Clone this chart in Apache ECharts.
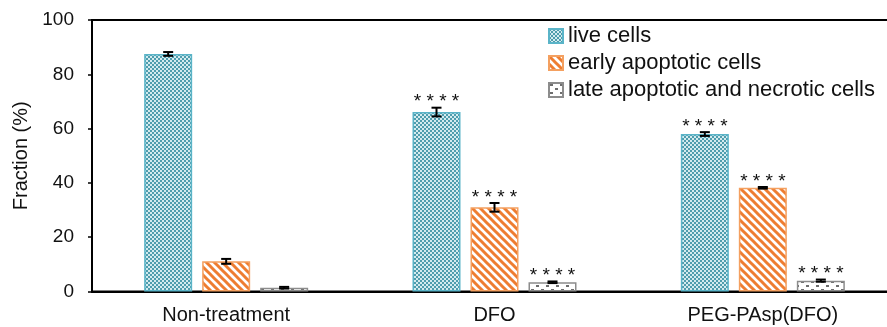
<!DOCTYPE html>
<html><head><meta charset="utf-8">
<script src="https://cdn.jsdelivr.net/npm/echarts@6/dist/echarts.min.js"></script>
<style>html,body{margin:0;padding:0;background:#fff;overflow:hidden;width:887px;height:327px}#c{width:897px;height:327px}</style>
</head><body><div id="c"></div>
<script>
var categories = ['Non-treatment', 'DFO', 'PEG-PAsp(DFO)'];
var seriesNames = ['live cells', 'early apoptotic cells', 'late apoptotic and necrotic cells'];
var liveVals = [87.5, 66.1, 58.0];
var liveErr = [0.7, 1.6, 0.7];
var earlyVals = [11.1, 31.0, 38.2];
var earlyErr = [0.9, 1.6, 0.3];
var lateVals = [1.4, 3.4, 4.0];
var lateErr = [0.3, 0.3, 0.4];
var liveStars = ['', '****', '****'];
var earlyStars = ['', '****', '****'];
var lateStars = ['', '****', '****'];
var yTicks = [0, 20, 40, 60, 80, 100];

function makeCanvas(w, h, draw) {
  var c = document.createElement('canvas'); c.width = w; c.height = h;
  var ctx = c.getContext('2d'); draw(ctx); return c;
}
var checker = makeCanvas(4, 4, function (ctx) {
  ctx.fillStyle = '#d4ebef'; ctx.fillRect(0, 0, 4, 4);
  ctx.fillStyle = '#4f9dad'; ctx.fillRect(0, 0, 2, 2); ctx.fillRect(2, 2, 2, 2);
});
var stripes = makeCanvas(8, 8, function (ctx) {
  ctx.fillStyle = '#ffffff'; ctx.fillRect(0, 0, 8, 8);
  ctx.strokeStyle = '#ee7d31'; ctx.lineWidth = 3;
  for (var k = -2; k <= 2; k++) {
    ctx.beginPath(); ctx.moveTo(k * 8 - 2, -2); ctx.lineTo(k * 8 + 10, 10); ctx.stroke();
  }
});
var dots = makeCanvas(10, 8, function (ctx) {
  ctx.fillStyle = '#ffffff'; ctx.fillRect(0, 0, 10, 8);
  ctx.fillStyle = '#6e6e6e';
  ctx.fillRect(1, 1, 3, 2); ctx.fillRect(6, 5, 3, 2);
});
var fills = [
  { image: checker, repeat: 'repeat' },
  { image: stripes, repeat: 'repeat' },
  { image: dots, repeat: 'repeat' }
];
var borders = ['#5ab4c8', '#f4a060', '#8c8c8c'];
var vals = [liveVals, earlyVals, lateVals];
var errs = [liveErr, earlyErr, lateErr];
var stars = [liveStars, earlyStars, lateStars];
var BW = 48, GAP = 10;

var series = [];
for (var s = 0; s < 3; s++) {
  series.push({
    name: seriesNames[s], type: 'bar', data: vals[s], barWidth: BW, barGap: (GAP / BW * 100) + '%',
    itemStyle: { color: fills[s], borderColor: borders[s], borderWidth: 1.5 },
    emphasis: { disabled: true }
  });
}
for (var s2 = 0; s2 < 3; s2++) {
  (function (si) {
    var d = vals[si].map(function (v, i) { return [i, v, errs[si][i]]; });
    series.push({
      type: 'custom', data: d, z: 5, silent: true,
      renderItem: function (params, api) {
        var i = api.value(0), m = api.value(1), e = api.value(2);
        var off = (si - 1) * (BW + GAP);
        var top = api.coord([i, m + e]), bot = api.coord([i, m - e]);
        var x = top[0] + off;
        var ch = [
          { type: 'line', shape: { x1: x, y1: top[1], x2: x, y2: bot[1] }, style: { stroke: '#000', lineWidth: 2 } },
          { type: 'line', shape: { x1: x - 5, y1: top[1], x2: x + 5, y2: top[1] }, style: { stroke: '#000', lineWidth: 2 } },
          { type: 'line', shape: { x1: x - 5, y1: bot[1], x2: x + 5, y2: bot[1] }, style: { stroke: '#000', lineWidth: 2 } }
        ];
        var st = stars[si][params.dataIndex];
        if (st) {
          ch.push({ type: 'text', style: { text: st.split('').join(' '), x: x, y: top[1] + 4, align: 'center', verticalAlign: 'bottom', font: '19px "Liberation Sans", Arial', fill: '#111' } });
        }
        return { type: 'group', children: ch };
      }
    });
  })(s2);
}

var chart = echarts.init(document.getElementById('c'), null, { renderer: 'canvas' });
chart.setOption({
  animation: false,
  backgroundColor: '#fff',
  textStyle: { fontFamily: '"Liberation Sans", Arial, sans-serif' },
  grid: { left: 92, right: 0, top: 20, bottom: 35.5, show: true, borderColor: '#000', borderWidth: 2 },
  legend: {
    data: seriesNames.map(function (n) { return { name: n, icon: 'rect' }; }),
    orient: 'vertical', left: 548, top: 25, padding: 0, itemWidth: 14, itemHeight: 14, itemGap: 5,
    textStyle: { fontSize: 22, color: '#111' }, selectedMode: false
  },
  xAxis: {
    type: 'category', data: categories,
    axisLine: { lineStyle: { color: '#000', width: 2 } }, axisTick: { show: false },
    axisLabel: { fontSize: 20, color: '#111', margin: 14 }
  },
  yAxis: {
    type: 'value', min: yTicks[0], max: yTicks[yTicks.length - 1], interval: 20,
    name: 'Fraction (%)', nameLocation: 'middle', nameGap: 60, nameRotate: 90,
    nameTextStyle: { fontSize: 20, color: '#111' },
    axisLine: { show: true, lineStyle: { color: '#000', width: 2 } },
    axisTick: { show: true, inside: false, length: 4, lineStyle: { color: '#000', width: 1.5 } },
    splitLine: { show: false },
    axisLabel: { fontSize: 19, color: '#111', margin: 18 }
  },
  series: series
});
</script></body></html>
